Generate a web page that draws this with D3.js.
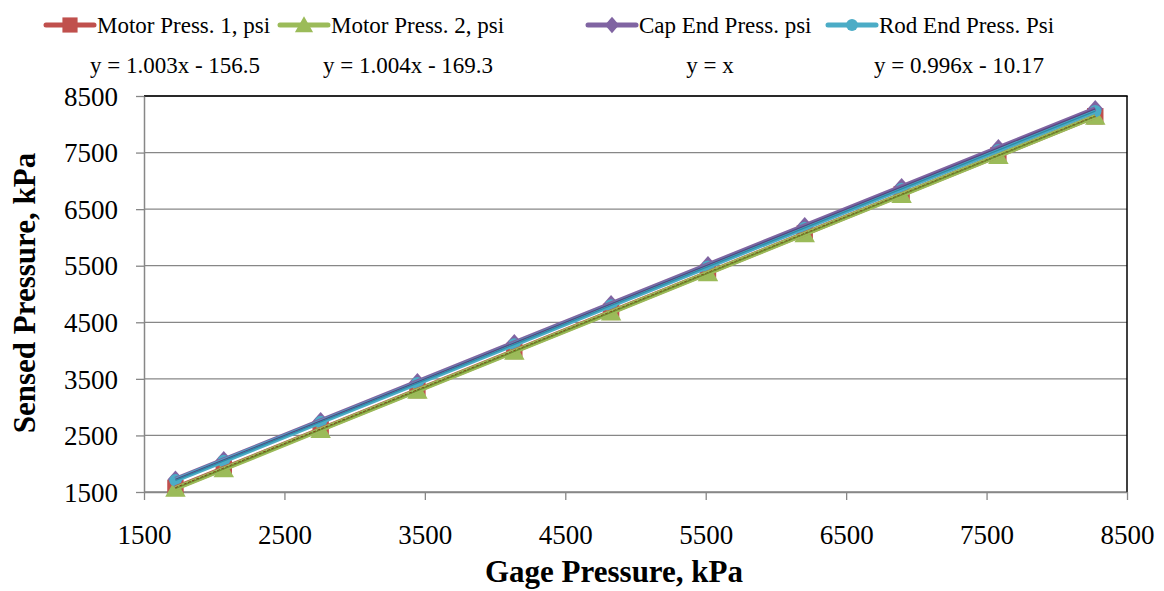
<!DOCTYPE html>
<html><head><meta charset="utf-8">
<script src="https://cdn.jsdelivr.net/npm/d3@7"></script>
</head><body style="margin:0;background:#fff">
<svg id="c" width="1164" height="591" style="display:block"></svg>
<script>
const gagePressure = [1724, 2068, 2758, 3447, 4137, 4826, 5516, 6205, 6895, 7584, 8274];
const motor1 = [1573, 1918, 2610, 3301, 3993, 4684, 5376, 6067, 6759, 7450, 8142];
const motor2 = [1562, 1907, 2600, 3292, 3984, 4676, 5369, 6061, 6753, 7445, 8138];
const capEnd = [1724, 2068, 2758, 3447, 4137, 4826, 5516, 6205, 6895, 7584, 8274];
const rodEnd = [1707, 2050, 2737, 3423, 4110, 4797, 5484, 6170, 6857, 7544, 8231];
const seriesNames = ["Motor Press. 1, psi", "Motor Press. 2, psi", "Cap End Press. psi", "Rod End Press. Psi"];
const equations = ["y = 1.003x - 156.5", "y = 1.004x - 169.3", "y = x", "y = 0.996x - 10.17"];
const xTicks = [1500, 2500, 3500, 4500, 5500, 6500, 7500, 8500];
const yTicks = [1500, 2500, 3500, 4500, 5500, 6500, 7500, 8500];

const FONT = "Liberation Serif";
const colors = ["#C0504D", "#9BBB59", "#8064A2", "#4BACC6"];
const trendColors = ["#8B1A10", "#6E8E2E", "#5A4480", "#2E8AA6"];

// marker symbol types (Excel-like proportions)
const squareSym = { draw(ctx, s) { const h = Math.sqrt(s) / 2; ctx.rect(-h, -h, 2 * h, 2 * h); } };
const triSym = { draw(ctx, s) { const w = Math.sqrt(s) / 2; ctx.moveTo(0, -w * 0.95); ctx.lineTo(w, w * 0.8); ctx.lineTo(-w, w * 0.8); ctx.closePath(); } };
const diaSym = { draw(ctx, s) { const w = Math.sqrt(s) / 2; ctx.moveTo(0, -w * 1.15); ctx.lineTo(w, 0); ctx.lineTo(0, w * 1.15); ctx.lineTo(-w, 0); ctx.closePath(); } };
const shapes = [squareSym, triSym, diaSym, d3.symbolCircle];
const shapeSizes = [270, 420, 240, 120];
const seriesVals = [motor1, motor2, capEnd, rodEnd];

const svg = d3.select("#c").attr("font-family", FONT);
const L = 144, R = 1127, T = 96, B = 492;
const x = d3.scaleLinear().domain([1500, 8500]).range([L, R]);
const y = d3.scaleLinear().domain([1500, 8500]).range([B, T]);

// gridlines
svg.append("g").selectAll("line").data(yTicks).join("line")
  .attr("x1", L).attr("x2", R).attr("y1", d => y(d)).attr("y2", d => y(d))
  .attr("stroke", "#878787").attr("stroke-width", 1.3);

// plot border top/right
svg.append("line").attr("x1", L).attr("x2", R + 0.75).attr("y1", T).attr("y2", T).attr("stroke", "#000").attr("stroke-width", 1.5);
svg.append("line").attr("x1", R).attr("x2", R).attr("y1", T).attr("y2", B).attr("stroke", "#000").attr("stroke-width", 1.5);

// axes
const xAxis = svg.append("g").attr("transform", `translate(0,${B})`)
  .call(d3.axisBottom(x).tickValues(xTicks).tickSize(8).tickSizeOuter(0).tickPadding(25).tickFormat(d3.format("d")));
const yAxis = svg.append("g").attr("transform", `translate(${L},0)`)
  .call(d3.axisLeft(y).tickValues(yTicks).tickSize(8).tickSizeOuter(0).tickPadding(18).tickFormat(d3.format("d")));
[xAxis, yAxis].forEach(a => {
  a.attr("font-family", FONT).attr("font-size", 27);
  a.select(".domain").attr("stroke", "#878787").attr("stroke-width", 1.5);
  a.selectAll(".tick line").attr("stroke", "#878787").attr("stroke-width", 1.3);
  a.selectAll(".tick text").attr("font-family", FONT).attr("font-size", 27).attr("fill", "#000");
});
yAxis.selectAll(".tick text").attr("dy", "0.34em");

// markers
const mk = svg.append("g");
seriesVals.forEach((vals, i) => {
  mk.append("g").selectAll("path").data(vals).join("path")
    .attr("transform", (d, j) => `translate(${x(gagePressure[j])},${y(d)})`)
    .attr("d", d3.symbol(shapes[i], shapeSizes[i]))
    .attr("fill", colors[i]);
});

// series lines
const line = d3.line().x((d, j) => x(gagePressure[j])).y(d => y(d));
seriesVals.forEach((vals, i) => {
  svg.append("path").datum(vals).attr("d", line).attr("fill", "none")
    .attr("stroke", colors[i]).attr("stroke-width", 5).attr("stroke-linejoin", "round");
});
// trendlines (thin)
seriesVals.forEach((vals, i) => {
  svg.append("path").datum(vals).attr("d", line).attr("fill", "none")
    .attr("stroke", trendColors[i]).attr("stroke-width", 1.3).attr("stroke-dasharray", i === 0 ? "3,1.5" : null);
});

// legend
const legX = [46, 280, 588, 828];
const legSizes = [230, 330, 200, 110];
const lg = svg.append("g");
seriesNames.forEach((n, i) => {
  const g = lg.append("g").attr("transform", `translate(${legX[i]},25)`);
  g.append("line").attr("x1", 0).attr("x2", 48).attr("stroke", colors[i]).attr("stroke-width", 5).attr("stroke-linecap", "round");
  g.append("path").attr("transform", "translate(24,0)").attr("d", d3.symbol(shapes[i], legSizes[i])).attr("fill", colors[i]);
  g.append("text").attr("x", 51).attr("y", 8).attr("font-family", FONT).attr("font-size", 23).text(n);
});

// equations
const eqX = [175, 408, 710, 959];
equations.forEach((e, i) => {
  svg.append("text").attr("x", eqX[i]).attr("y", 73).attr("text-anchor", "middle")
    .attr("font-family", FONT).attr("font-size", 23).text(e);
});

// axis titles
svg.append("text").attr("x", 614).attr("y", 582).attr("text-anchor", "middle").attr("font-family", FONT)
  .attr("font-size", 31).attr("font-weight", "bold").text("Gage Pressure, kPa");
svg.append("text").attr("transform", "translate(35,293) rotate(-90)").attr("text-anchor", "middle").attr("font-family", FONT)
  .attr("font-size", 31).attr("font-weight", "bold").text("Sensed Pressure, kPa");
</script>
</body></html>
